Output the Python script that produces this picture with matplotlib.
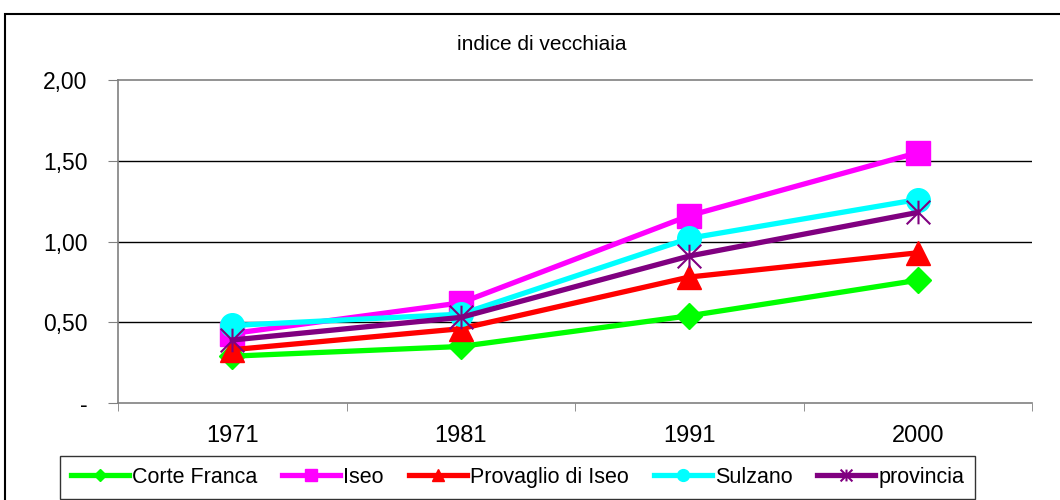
import matplotlib
matplotlib.use("Agg")
import matplotlib.pyplot as plt
from matplotlib.path import Path
from matplotlib.patches import Rectangle

plt.rcParams['font.family'] = ['Liberation Sans', 'DejaVu Sans']

years = ["1971", "1981", "1991", "2000"]
series_names = ["Corte Franca", "Iseo", "Provaglio di Iseo", "Sulzano", "provincia"]
corte_franca = [0.29, 0.35, 0.54, 0.76]
iseo = [0.43, 0.62, 1.16, 1.55]
provaglio = [0.33, 0.46, 0.78, 0.93]
sulzano = [0.48, 0.55, 1.02, 1.26]
provincia = [0.39, 0.53, 0.91, 1.18]
y_ticks = [0, 0.5, 1.0, 1.5, 2.0]
y_tick_labels = ["-", "0,50", "1,00", "1,50", "2,00"]

asterisk = Path([(0, -1), (0, 1), (-1, -1), (1, 1), (-1, 1), (1, -1)],
                [Path.MOVETO, Path.LINETO, Path.MOVETO, Path.LINETO, Path.MOVETO, Path.LINETO])

styles = [
    dict(color="#00FF00", marker="D", ms=13),
    dict(color="#FF00FF", marker="s", ms=17),
    dict(color="#FF0000", marker="^", ms=17),
    dict(color="#00FFFF", marker="o", ms=17),
    dict(color="#800080", marker=asterisk, ms=17, mew=1.5),
]
data = [corte_franca, iseo, provaglio, sulzano, provincia]

fig = plt.figure(figsize=(10.6, 5.0), dpi=100)
ax = fig.add_axes([118/1060, 1-403/500, (1032-118)/1060, (403-80)/500])

x = list(range(len(years)))
handles = []
for name, vals, st in zip(series_names, data, styles):
    h, = ax.plot(x, vals, color=st["color"], lw=3.8, marker=st["marker"],
                 ms=st["ms"], mfc=st["color"], mec=st["color"],
                 mew=st.get("mew", 1), label=name, clip_on=False, zorder=3)
    handles.append(h)

ax.set_xlim(-0.5, 3.5)
ax.set_ylim(0, 2.0)
ax.set_yticks(y_ticks)
ax.set_yticklabels(y_tick_labels, fontsize=16.5)
ax.set_xticks(x)
ax.set_xticklabels(years, fontsize=17)
ax.set_xticks([-0.5, 0.5, 1.5, 2.5, 3.5], minor=True)
ax.tick_params(axis='x', which='major', length=0, pad=16)
ax.tick_params(axis='x', which='minor', length=6, color="#808080", direction='out')
ax.tick_params(axis='y', length=7, color="#808080", direction='out', pad=15)
for yv in y_ticks[1:-1]:
    ax.axhline(yv, color="black", lw=1.0, zorder=1)
ax.axhline(y_ticks[-1], color="#808080", lw=1.2, zorder=1, clip_on=False)
for s in ["top", "right"]:
    ax.spines[s].set_visible(False)
ax.spines["left"].set_color("#808080")
ax.spines["bottom"].set_color("#808080")
ax.spines["left"].set_linewidth(1.2)
ax.spines["bottom"].set_linewidth(1.2)

fig.text(542/1060, 1-44/500, "indice di vecchiaia", ha="center", va="center", fontsize=15)

# outer chart frame
fig.patches.append(Rectangle((5/1060, -0.05), 1.1, 1-14/500+0.05, transform=fig.transFigure,
                             fill=False, edgecolor="black", lw=1.5))

leg = fig.legend(handles=handles, loc="upper left", bbox_to_anchor=(60/1060, 1-456/500),
                 ncol=5, fontsize=15.5, frameon=True, fancybox=False, edgecolor="black",
                 markerscale=0.5, handlelength=2.7, handletextpad=0.15, columnspacing=1.15,
                 borderpad=0.5, borderaxespad=0)
leg.get_frame().set_linewidth(1.0)

fig.savefig("out.png", dpi=100)
